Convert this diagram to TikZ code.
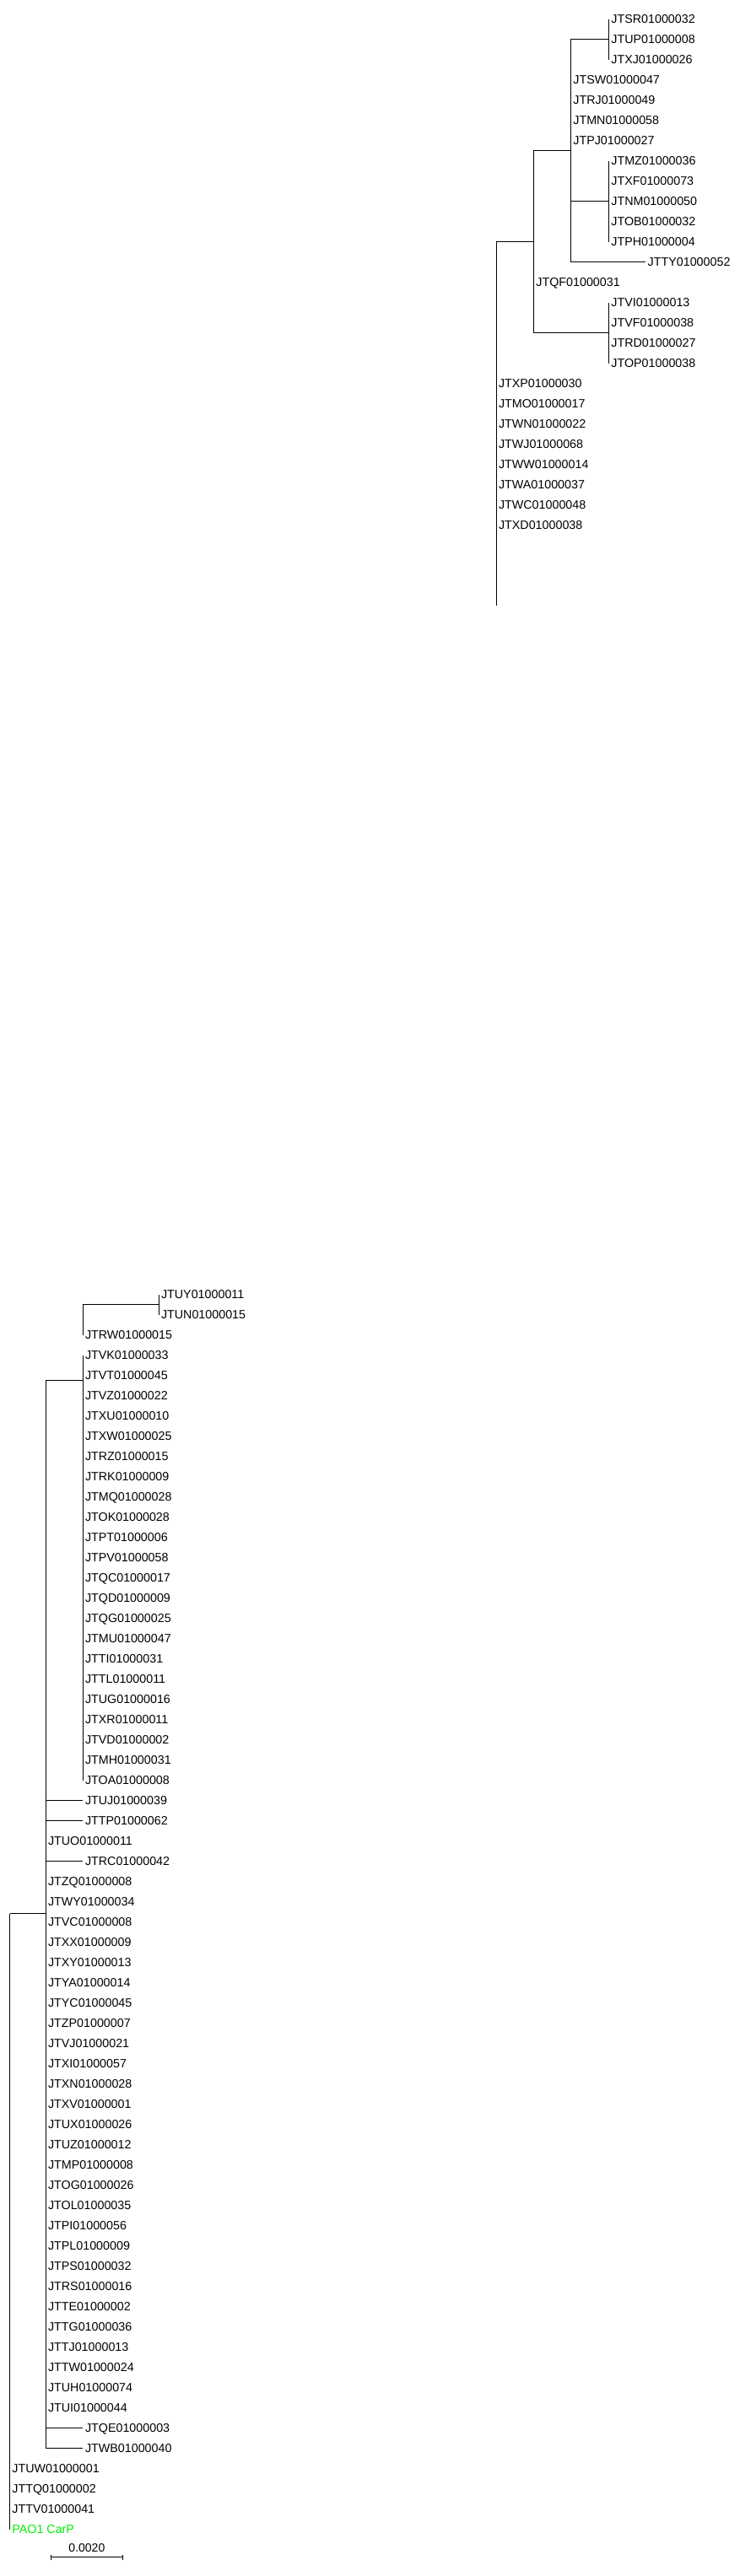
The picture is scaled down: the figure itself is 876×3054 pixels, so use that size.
\documentclass[tikz,border=0pt]{standalone}
\usepackage{fontspec}
\setmainfont{Liberation Sans}
\usepackage{xcolor}
\usepackage{tikz}
\usetikzlibrary{positioning}
\definecolor{refGreen}{HTML}{00F000}

\begin{document}
\begin{tikzpicture}[
    x=1pt, y=-1pt,
    every node/.style={font=\fontsize{14.3}{16}\selectfont},
    leaf/.style={anchor=west, inner xsep=2.5pt, inner ysep=0pt,
        text height=10.2pt, text depth=0pt},
    branch/.style={line width=1pt},
    scalelabel/.style={font=\fontsize{14}{15}\selectfont, inner sep=0pt}
]
\useasboundingbox (0,0) rectangle (876,3054);

% upper panel
\coordinate (rootT) at (588.3,286.7);
\coordinate (rootTend) at (588.3,718);
\coordinate (nA) at (632.7,286.7);
\coordinate (nB) at (676.7,178.7);
\coordinate (nSR) at (721.7,46.7);
\coordinate (nMZ) at (721.7,238.7);
\coordinate (nVI) at (721.7,394.7);

\foreach \lab [count=\i from 0] in {JTSR01000032,JTUP01000008,JTXJ01000026} {
    \node[leaf] (\lab) at (721.7,22.7+24*\i) {\lab};
    \draw[branch] (nSR) |- (\lab.west);
}
\foreach \lab [count=\i from 0] in {JTSW01000047,JTRJ01000049,JTMN01000058,JTPJ01000027} {
    \node[leaf] (\lab) at (676.7,94.7+24*\i) {\lab};
    \draw[branch] (nB) |- (\lab.west);
}
\foreach \lab [count=\i from 0] in {JTMZ01000036,JTXF01000073,JTNM01000050,JTOB01000032,JTPH01000004} {
    \node[leaf] (\lab) at (721.7,190.7+24*\i) {\lab};
    \draw[branch] (nMZ) |- (\lab.west);
}
\foreach \lab [count=\i from 0] in {JTVI01000013,JTVF01000038,JTRD01000027,JTOP01000038} {
    \node[leaf] (\lab) at (721.7,358.7+24*\i) {\lab};
    \draw[branch] (nVI) |- (\lab.west);
}
\node[leaf] (JTTY01000052) at (765,310.7) {JTTY01000052};
\node[leaf] (JTQF01000031) at (632.7,334.7) {JTQF01000031};

\draw[branch] (nB) |- (nSR);
\draw[branch] (nB) |- (nMZ);
\draw[branch] (nB) |- (JTTY01000052.west);
\draw[branch] (nA) |- (nB);
\draw[branch] (nA) |- (JTQF01000031.west);
\draw[branch] (nA) |- (nVI);
\draw[branch] (rootT) -- (nA);

\foreach \lab [count=\i from 0] in {JTXP01000030,JTMO01000017,JTWN01000022,JTWJ01000068,
        JTWW01000014,JTWA01000037,JTWC01000048,JTXD01000038} {
    \node[leaf] (\lab) at (588.3,454.7+24*\i) {\lab};
}
\draw[branch] (rootT) -- (rootTend);

% lower panel
\coordinate (nUY) at (188.3,1546.7);
\coordinate (nRW) at (98.3,1546.7);
\coordinate (nVK) at (98.3,1636);
\coordinate (n1) at (54.3,2268.7);
\coordinate (rootB) at (11.7,2268.7);

\foreach \lab [count=\i from 0] in {JTUY01000011,JTUN01000015} {
    \node[leaf] (\lab) at (188.3,1534.7+24*\i) {\lab};
    \draw[branch] (nUY) |- (\lab.west);
}
\node[leaf] (JTRW01000015) at (98.3,1582.7) {JTRW01000015};
\draw[branch] (nRW) -- (nUY);
\draw[branch] (nRW) |- (JTRW01000015.west);

\foreach \lab [count=\i from 0] in {JTVK01000033,JTVT01000045,JTVZ01000022,JTXU01000010,
        JTXW01000025,JTRZ01000015,JTRK01000009,JTMQ01000028,JTOK01000028,JTPT01000006,
        JTPV01000058,JTQC01000017,JTQD01000009,JTQG01000025,JTMU01000047,JTTI01000031,
        JTTL01000011,JTUG01000016,JTXR01000011,JTVD01000002,JTMH01000031,JTOA01000008} {
    \node[leaf] (\lab) at (98.3,1606.7+24*\i) {\lab};
    \draw[branch] (nVK) |- (\lab.west);
}
\draw[branch] (n1) |- (nVK);

\foreach \lab/\yy in {JTUJ01000039/2134.7,JTTP01000062/2158.7,JTRC01000042/2206.7,
        JTQE01000003/2878.7,JTWB01000040/2902.7} {
    \node[leaf] (\lab) at (98.3,\yy) {\lab};
    \draw[branch] (n1) |- (\lab.west);
}
\node[leaf] (JTUO01000011) at (54.3,2182.7) {JTUO01000011};
\foreach \lab [count=\i from 0] in {JTZQ01000008,JTWY01000034,JTVC01000008,JTXX01000009,
        JTXY01000013,JTYA01000014,JTYC01000045,JTZP01000007,JTVJ01000021,JTXI01000057,
        JTXN01000028,JTXV01000001,JTUX01000026,JTUZ01000012,JTMP01000008,JTOG01000026,
        JTOL01000035,JTPI01000056,JTPL01000009,JTPS01000032,JTRS01000016,JTTE01000002,
        JTTG01000036,JTTJ01000013,JTTW01000024,JTUH01000074,JTUI01000044} {
    \node[leaf] (\lab) at (54.3,2230.7+24*\i) {\lab};
}
\draw[branch] (rootB) -- (n1);

\foreach \lab [count=\i from 0] in {JTUW01000001,JTTQ01000002,JTTV01000041} {
    \node[leaf] (\lab) at (11.7,2926.7+24*\i) {\lab};
}
\node[leaf, text=refGreen] (pao1) at (11.7,2998.7) {PAO1 CarP};
\draw[branch] (rootB) |- (pao1.west);

% scale bar
\coordinate (sbL) at (60,3031.7);
\coordinate (sbR) at (145.7,3031.7);
\draw[branch] (sbL) -- (sbR);
\draw[branch] ([yshift=-3pt]sbL) -- ([yshift=3pt]sbL);
\draw[branch] ([yshift=-3pt]sbR) -- ([yshift=3pt]sbR);
\node[scalelabel, anchor=south] (sblabel) at (102.9,3026) {0.0020};

\end{tikzpicture}
\end{document}
